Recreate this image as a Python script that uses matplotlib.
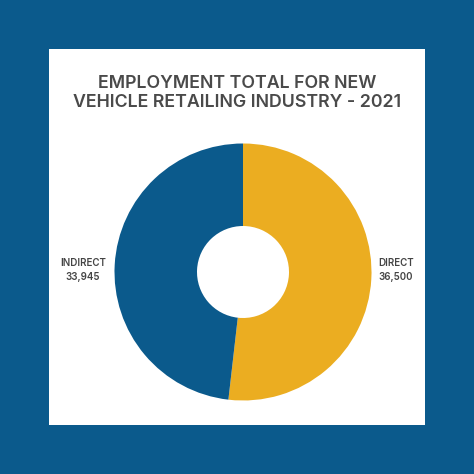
import matplotlib
matplotlib.use('Agg')
import matplotlib.pyplot as plt
from matplotlib.patches import Rectangle

# data
categories = ['DIRECT', 'INDIRECT']
values = [36500, 33945]
colors = ['#EBAD21', '#0B5A8C']
title = 'EMPLOYMENT TOTAL FOR NEW\nVEHICLE RETAILING INDUSTRY - 2021'

W = 474
fig = plt.figure(figsize=(4.74, 4.74), dpi=100)
fig.patch.set_facecolor('#0B5A8C')

# white panel
fig.patches.append(Rectangle((49 / W, 1 - 425 / W), 376 / W, 376 / W,
                             transform=fig.transFigure, facecolor='white',
                             edgecolor='none', zorder=0))

# donut
cx, cy, r = 243, 272, 128.5
ax = fig.add_axes([(cx - r) / W, 1 - (cy + r) / W, 2 * r / W, 2 * r / W])
ax.set_zorder(2)
ax.pie(values, colors=colors, startangle=90, counterclock=False,
       radius=1.0, wedgeprops=dict(width=1 - 46 / 128.5, edgecolor='none'))
ax.set_xlim(-1, 1)
ax.set_ylim(-1, 1)
ax.set_aspect('equal')
ax.axis('off')

fig.text(0.5, 1 - 93 / W, title, ha='center', va='center',
         fontsize=12.8, color='#4a4a4a', family='Inter',
         fontweight='semibold', linespacing=1.15, zorder=3)

lab_style = dict(fontsize=7.0, color='#444444', family='Inter',
                 fontweight='semibold', va='center', linespacing=1.5, zorder=3)
fig.text(83 / W, 1 - 270 / W, f'{categories[1]}\n{values[1]:,}', ha='center', **lab_style)
fig.text(378 / W, 1 - 270 / W, f'{categories[0]}\n{values[0]:,}', ha='left', **lab_style)

fig.savefig('out.png', dpi=100, facecolor=fig.get_facecolor())
